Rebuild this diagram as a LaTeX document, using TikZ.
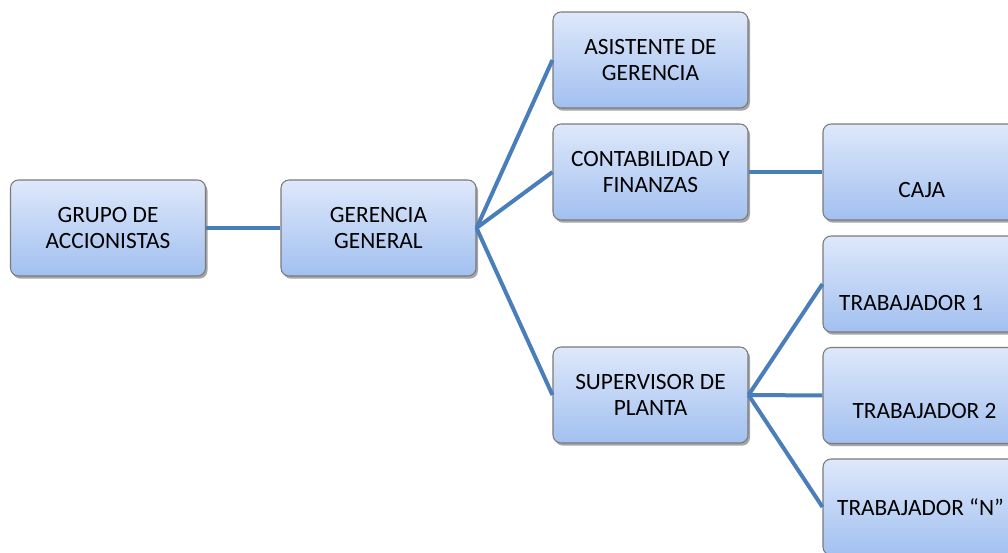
\documentclass[tikz,border=0pt]{standalone}
\usepackage{fontspec}
\setmainfont{Carlito}
\usetikzlibrary{shadows}
\definecolor{linkblue}{HTML}{4A7EBB}
\definecolor{boxtop}{HTML}{DEE8FA}
\definecolor{boxbot}{HTML}{A2C0F0}
\definecolor{boxedge}{HTML}{7A7A7A}
\tikzset{
  orgbox/.style={draw=boxedge, line width=0.8pt, rounded corners=6pt,
    top color=boxtop, bottom color=boxbot,
    minimum width=146.25pt, minimum height=72pt, inner sep=0pt,
    align=center, font=\fontsize{17.5}{19}\selectfont, text=black,
    drop shadow={shadow xshift=1.5pt, shadow yshift=-2pt, opacity=0.35, fill=black}},
  link/.style={draw=linkblue, line width=3pt},
  lowtext/.style={font=\fontsize{17.5}{19}\selectfont, text=black}
}
\begin{document}
\begin{tikzpicture}[x=0.75pt,y=-0.75pt]
\useasboundingbox (0,0) rectangle (1008,553);
\clip (0,0) rectangle (1008,553);
\node[orgbox] (grupo) at (108,228) {GRUPO DE\\ACCIONISTAS};
\node[orgbox] (gerencia) at (378.5,228) {GERENCIA\\GENERAL};
\node[orgbox] (asist) at (650.5,60) {ASISTENTE DE\\GERENCIA};
\node[orgbox] (conta) at (650.5,172) {CONTABILIDAD Y\\FINANZAS};
\node[orgbox] (super) at (650.5,395) {SUPERVISOR DE\\PLANTA};
\node[orgbox, label={[lowtext, xshift=1pt, yshift=-13.5pt]center:CAJA}] (caja) at (920.5,172) {};
\node[orgbox, label={[lowtext, xshift=-7pt, yshift=-14pt]center:TRABAJADOR 1}] (t1) at (920.5,284) {};
\node[orgbox, label={[lowtext, xshift=3pt, yshift=-11.5pt]center:TRABAJADOR 2}] (t2) at (920.5,395.5) {};
\node[orgbox, label={[lowtext, yshift=0pt]center:TRABAJADOR “N”}] (tn) at (920.5,507) {};
\draw[link] (grupo.east) -- (gerencia.west);
\draw[link] (gerencia.east) -- (asist.west);
\draw[link] (gerencia.east) -- (conta.west);
\draw[link] (gerencia.east) -- (super.west);
\draw[link] (conta.east) -- (caja.west);
\draw[link] (super.east) -- (t1.west);
\draw[link] (super.east) -- (t2.west);
\draw[link] (super.east) -- (tn.west);
\end{tikzpicture}
\end{document}
